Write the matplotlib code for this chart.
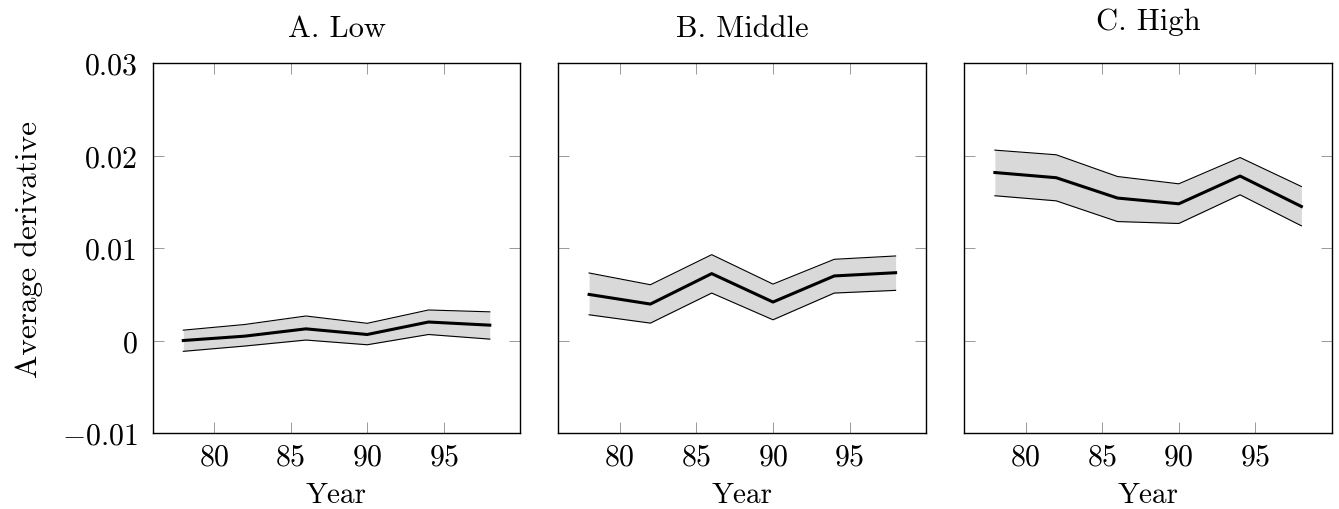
import matplotlib
matplotlib.use("Agg")
import matplotlib.pyplot as plt

plt.rcParams['font.family'] = 'serif'
plt.rcParams['font.serif'] = ['cmr10']
plt.rcParams['mathtext.fontset'] = 'cm'
plt.rcParams['axes.formatter.use_mathtext'] = True

######################################################################################################################
years = [78, 82, 86, 90, 94, 98]

low_mean = [0.0000, 0.00047, 0.00126, 0.00065, 0.0020, 0.00166]
low_upper = [0.00112, 0.00173, 0.00265, 0.00186, 0.0033, 0.0031]
low_lower = [-0.00117, -0.0006, 0.00005, -0.00046, 0.00065, 0.00015]

mid_mean = [0.00498, 0.00394, 0.00723, 0.00416, 0.00698, 0.00733]
mid_upper = [0.0073, 0.00603, 0.00928, 0.0061, 0.00878, 0.00914]
mid_lower = [0.00278, 0.00188, 0.00513, 0.00224, 0.00513, 0.00542]

high_mean = [0.01816, 0.0176, 0.0154, 0.01478, 0.01778, 0.01449]
high_upper = [0.02058, 0.02008, 0.01773, 0.01694, 0.01978, 0.01665]
high_lower = [0.01565, 0.0151, 0.01286, 0.01265, 0.01575, 0.0124]

titles = ['A. Low', 'B. Middle', 'C. High']
xticks = [80, 85, 90, 95]
yticks = [-0.01, 0, 0.01, 0.02, 0.03]
ytick_labels = ['$-0.01$', '0', '0.01', '0.02', '0.03']
######################################################################################################################
fig, axes = plt.subplots(1, 3, figsize=(13.39, 5.10), dpi=100, sharey=True)
fig.subplots_adjust(left=0.114, right=0.9948, bottom=0.149, top=0.8745, wspace=0.1033)

panels = [(low_mean, low_upper, low_lower),
          (mid_mean, mid_upper, mid_lower),
          (high_mean, high_upper, high_lower)]

for i, (ax, (m, up, lo)) in enumerate(zip(axes, panels)):
    ax.fill_between(years, lo, up, color='#d9d9d9', linewidth=0)
    ax.plot(years, up, color='black', linewidth=0.8)
    ax.plot(years, lo, color='black', linewidth=0.8)
    ax.plot(years, m, color='black', linewidth=2.2)

    ax.set_xlim(76, 100)
    ax.set_ylim(-0.01, 0.03)
    ax.set_xticks(xticks)
    ax.set_yticks(yticks)
    ax.set_yticklabels(ytick_labels)
    ax.tick_params(direction='in', top=True, right=True, length=8, width=0.7,
                   color='#999999', labelsize=21.5)
    ax.tick_params(axis='x', pad=7)
    ax.tick_params(axis='y', pad=10.5)
    if i > 0:
        ax.tick_params(labelleft=False)
    for s in ax.spines.values():
        s.set_linewidth(1.0)
    ax.set_xlabel('Year', fontsize=21, labelpad=8)
    ax.set_title(titles[i], fontsize=22, pad=24.5 if i == 2 else 19.5)

axes[0].set_ylabel('Average derivative', fontsize=22.5, labelpad=14)

plt.savefig('out.png', dpi=100)
